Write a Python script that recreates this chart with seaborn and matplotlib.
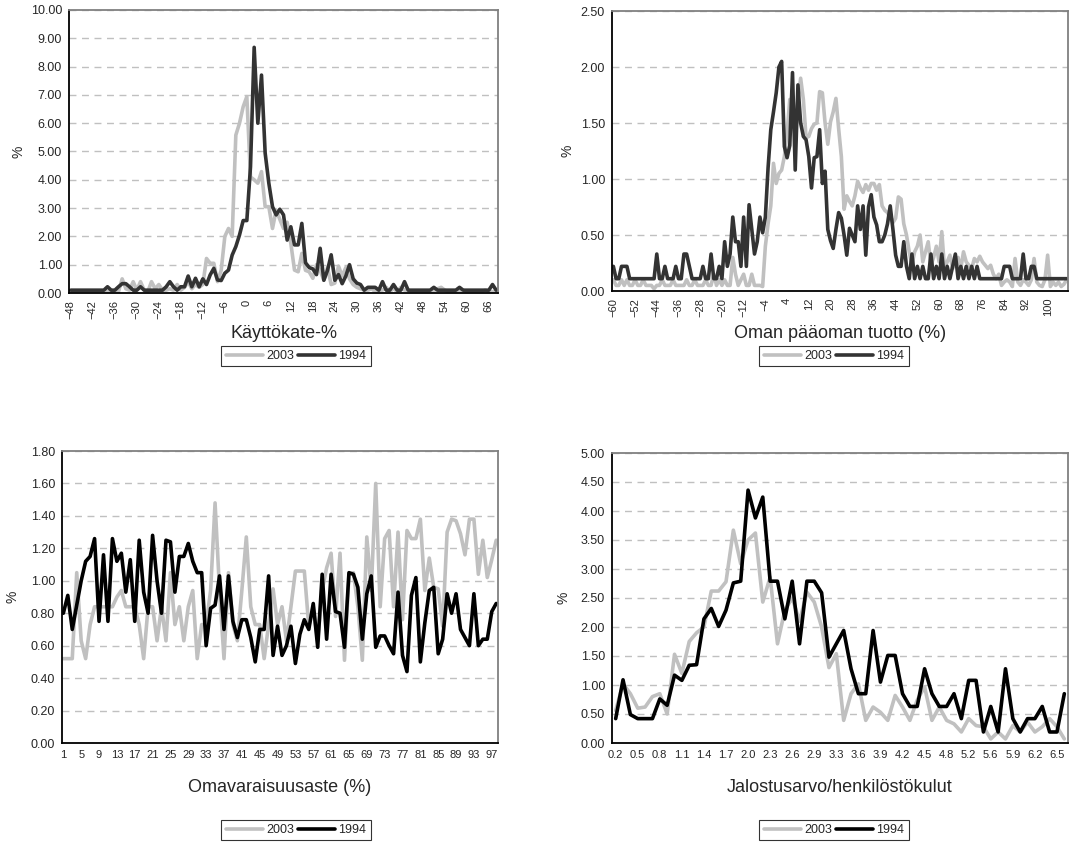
import matplotlib
matplotlib.use("Agg")
import numpy as np
import pandas as pd
import seaborn as sns
from matplotlib import pyplot as plt
from matplotlib.ticker import MultipleLocator, FormatStrFormatter, FixedLocator

# --- Käyttökate-% (categories -48..68) ---
kk_start = -48
kk_2003 = [0.05] * 10 + [
    0.05, 0.05, 0.05, 0.05, 0.5, 0.15, 0.1, 0.4, 0.1, 0.4,
    0.1, 0.05, 0.4, 0.15, 0.3, 0.1, 0.1, 0.15, 0.1, 0.3,
    0.1, 0.2, 0.4, 0.15, 0.3, 0.2, 0.3, 1.22, 1.05, 1.05,
    0.4, 0.8, 2.0, 2.28, 2.0, 5.58, 6.0, 6.58, 6.94, 4.1,
    4.0, 3.88, 4.29, 3.05, 3.05, 2.28, 2.93, 2.6, 2.28, 2.5,
    1.75, 0.81, 0.75, 1.4, 0.8, 0.75, 0.52, 1.0, 0.8, 0.45,
    0.9, 0.3, 0.35, 0.95, 0.6, 0.9, 0.5, 0.3, 0.2, 0.15,
    0.1, 0.1, 0.15, 0.05, 0.1, 0.1, 0.2, 0.05, 0.15, 0.05,
    0.2, 0.1, 0.1, 0.05, 0.05, 0.05, 0.05, 0.05, 0.05, 0.05,
    0.15, 0.2, 0.1, 0.05, 0.05, 0.05, 0.05, 0.1, 0.05, 0.05,
    0.05, 0.05, 0.05, 0.1, 0.05, 0.05, 0.05]
kk_1994 = [0.1] * 10 + [
    0.22, 0.1, 0.1, 0.22, 0.33, 0.33, 0.22, 0.1, 0.1, 0.22,
    0.1, 0.1, 0.1, 0.1, 0.1, 0.1, 0.22, 0.4, 0.22, 0.1,
    0.22, 0.22, 0.6, 0.22, 0.52, 0.22, 0.5, 0.3, 0.64, 0.87,
    0.46, 0.44, 0.7, 0.81, 1.34, 1.64, 2.05, 2.56, 2.56, 4.46,
    8.68, 6.0, 7.7, 4.94, 3.88, 3.05, 2.76, 2.96, 2.76, 1.87,
    2.34, 1.7, 1.7, 2.46, 1.07, 0.9, 0.85, 0.65, 1.58, 0.45,
    0.8, 1.35, 0.45, 0.65, 0.33, 0.6, 1.0, 0.5, 0.35, 0.3,
    0.1, 0.2, 0.2, 0.2, 0.1, 0.4, 0.1, 0.1, 0.3, 0.1,
    0.1, 0.4, 0.1, 0.1, 0.1, 0.1, 0.1, 0.1, 0.1, 0.2,
    0.1, 0.1, 0.1, 0.1, 0.1, 0.1, 0.2, 0.1, 0.1, 0.1,
    0.1, 0.1, 0.1, 0.1, 0.1, 0.3, 0.1]

# --- Oman pääoman tuotto (%) (categories -60..107) ---
opt_start = -60
opt_2003 = [
    0.10, 0.05, 0.05, 0.10, 0.05, 0.10, 0.05, 0.05, 0.10, 0.05,
    0.05, 0.10, 0.05, 0.05, 0.05, 0.02, 0.05, 0.05, 0.10, 0.05,
    0.05, 0.05, 0.10, 0.05, 0.05, 0.05, 0.05, 0.10, 0.05, 0.05,
    0.10, 0.05, 0.05, 0.05, 0.10, 0.05, 0.05, 0.15, 0.05, 0.10,
    0.05, 0.10, 0.05, 0.05, 0.30, 0.15, 0.05, 0.10, 0.15, 0.05,
    0.05, 0.15, 0.05, 0.05, 0.05, 0.04, 0.40, 0.60, 0.76, 1.14,
    0.96, 1.05, 1.08, 1.20, 1.41, 1.71, 1.59, 1.47, 1.70, 1.90,
    1.71, 1.37, 1.38, 1.45, 1.49, 1.50, 1.78, 1.77, 1.50, 1.31,
    1.51, 1.60, 1.72, 1.45, 1.20, 0.73, 0.85, 0.80, 0.76, 0.85,
    0.98, 0.92, 0.88, 0.95, 0.90, 0.96, 0.96, 0.90, 0.95, 0.76,
    0.72, 0.70, 0.65, 0.61, 0.65, 0.84, 0.82, 0.60, 0.50, 0.35,
    0.23, 0.35, 0.40, 0.50, 0.26, 0.35, 0.44, 0.23, 0.30, 0.40,
    0.26, 0.53, 0.20, 0.26, 0.32, 0.20, 0.26, 0.30, 0.20, 0.35,
    0.26, 0.23, 0.20, 0.29, 0.26, 0.31, 0.26, 0.23, 0.20, 0.23,
    0.15, 0.11, 0.15, 0.05, 0.08, 0.10, 0.08, 0.04, 0.29, 0.08,
    0.05, 0.10, 0.08, 0.05, 0.10, 0.29, 0.08, 0.05, 0.04, 0.10,
    0.32, 0.04, 0.08, 0.05, 0.08, 0.04, 0.06, 0.10]
opt_1994 = [
    0.22, 0.11, 0.11, 0.22, 0.22, 0.22, 0.11, 0.11, 0.11, 0.11,
    0.11, 0.11, 0.11, 0.11, 0.11, 0.11, 0.33, 0.11, 0.11, 0.22,
    0.11, 0.11, 0.11, 0.22, 0.11, 0.11, 0.33, 0.33, 0.22, 0.11,
    0.11, 0.11, 0.11, 0.22, 0.11, 0.11, 0.33, 0.11, 0.11, 0.22,
    0.11, 0.44, 0.22, 0.33, 0.66, 0.44, 0.44, 0.22, 0.66, 0.22,
    0.77, 0.55, 0.33, 0.44, 0.66, 0.52, 0.66, 1.10, 1.44, 1.60,
    1.77, 2.00, 2.05, 1.29, 1.19, 1.30, 1.95, 1.08, 1.84, 1.50,
    1.38, 1.35, 1.20, 0.92, 1.19, 1.20, 1.44, 0.96, 1.07, 0.55,
    0.45, 0.38, 0.55, 0.70, 0.65, 0.50, 0.32, 0.56, 0.50, 0.44,
    0.76, 0.55, 0.76, 0.32, 0.75, 0.86, 0.66, 0.59, 0.44, 0.44,
    0.50, 0.60, 0.76, 0.55, 0.32, 0.22, 0.22, 0.44, 0.22, 0.11,
    0.33, 0.11, 0.22, 0.11, 0.22, 0.11, 0.11, 0.33, 0.11, 0.22,
    0.11, 0.33, 0.11, 0.22, 0.11, 0.22, 0.33, 0.11, 0.22, 0.11,
    0.22, 0.11, 0.22, 0.11, 0.22, 0.11, 0.11, 0.11, 0.11, 0.11,
    0.11, 0.11, 0.11, 0.11, 0.22, 0.22, 0.22, 0.11, 0.11, 0.11,
    0.11, 0.33, 0.11, 0.11, 0.22, 0.22, 0.11, 0.11, 0.11, 0.11,
    0.11, 0.11, 0.11, 0.11, 0.11, 0.11, 0.11, 0.11]

# --- Omavaraisuusaste (%) (categories 1..98) ---
ova_start = 1
ova_2003 = [
    0.52, 0.52, 0.52, 1.05, 0.63, 0.52, 0.73, 0.84, 0.84, 0.84,
    0.84, 0.84, 0.90, 0.94, 0.84, 0.84, 0.84, 0.73, 0.52, 0.84,
    0.84, 0.63, 0.84, 0.63, 1.05, 0.73, 0.84, 0.63, 0.84, 0.94,
    0.52, 0.73, 0.73, 0.94, 1.48, 0.94, 0.52, 1.05, 0.73, 0.63,
    0.94, 1.27, 0.84, 0.73, 0.73, 0.52, 0.73, 0.95, 0.73, 0.84,
    0.63, 0.84, 1.06, 1.06, 1.06, 0.72, 0.84, 0.63, 0.94, 1.08,
    1.17, 0.78, 1.17, 0.51, 1.04, 1.05, 0.84, 0.51, 1.27, 0.94,
    1.60, 0.84, 1.26, 1.31, 0.84, 1.30, 0.76, 1.31, 1.26, 1.26,
    1.38, 0.94, 1.14, 0.96, 0.95, 0.72, 1.30, 1.38, 1.37, 1.29,
    1.16, 1.38, 1.38, 1.04, 1.25, 1.02, 1.13, 1.25]
ova_1994 = [
    0.80, 0.91, 0.70, 0.85, 1.00, 1.12, 1.15, 1.26, 0.75, 1.16,
    0.75, 1.26, 1.12, 1.17, 0.93, 1.13, 0.75, 1.25, 0.93, 0.80,
    1.28, 1.00, 0.80, 1.25, 1.24, 0.93, 1.15, 1.15, 1.23, 1.12,
    1.05, 1.05, 0.60, 0.83, 0.85, 1.03, 0.70, 1.03, 0.75, 0.65,
    0.76, 0.76, 0.65, 0.50, 0.70, 0.70, 1.03, 0.54, 0.72, 0.54,
    0.60, 0.72, 0.49, 0.67, 0.76, 0.70, 0.86, 0.59, 1.04, 0.64,
    1.04, 0.81, 0.80, 0.59, 1.05, 1.04, 0.96, 0.64, 0.92, 1.03,
    0.59, 0.66, 0.66, 0.60, 0.55, 0.93, 0.54, 0.44, 0.91, 1.02,
    0.50, 0.74, 0.94, 0.96, 0.55, 0.64, 0.92, 0.80, 0.92, 0.70,
    0.65, 0.60, 0.92, 0.60, 0.64, 0.64, 0.81, 0.86]

# --- Jalostusarvo/henkilöstökulut (62 categories, every 3rd labelled) ---
jh_labels = ["0.2", "0.5", "0.8", "1.1", "1.4", "1.7", "2.0", "2.3", "2.6", "2.9",
             "3.3", "3.6", "3.9", "4.2", "4.5", "4.8", "5.2", "5.6", "5.9", "6.2", "6.5"]
jh_2003 = [
    0.56, 1.02, 0.85, 0.60, 0.62, 0.80, 0.85, 0.50, 1.53, 1.20,
    1.75, 1.90, 2.00, 2.62, 2.62, 2.78, 3.67, 3.09, 3.50, 3.62,
    2.43, 2.86, 1.71, 2.29, 2.50, 2.10, 2.60, 2.43, 2.00, 1.30,
    1.54, 0.39, 0.85, 1.02, 0.39, 0.62, 0.53, 0.39, 0.82, 0.62,
    0.39, 0.74, 0.97, 0.39, 0.62, 0.39, 0.33, 0.19, 0.42, 0.30,
    0.28, 0.07, 0.19, 0.07, 0.30, 0.19, 0.36, 0.19, 0.28, 0.42,
    0.28, 0.07]
jh_1994 = [
    0.42, 1.09, 0.49, 0.42, 0.42, 0.42, 0.76, 0.65, 1.17, 1.08,
    1.34, 1.35, 2.14, 2.32, 2.01, 2.29, 2.76, 2.79, 4.36, 3.88,
    4.24, 2.79, 2.79, 2.14, 2.79, 1.71, 2.79, 2.79, 2.59, 1.48,
    1.71, 1.94, 1.28, 0.85, 0.85, 1.94, 1.05, 1.51, 1.51, 0.85,
    0.63, 0.63, 1.28, 0.85, 0.63, 0.63, 0.85, 0.42, 1.08, 1.08,
    0.19, 0.63, 0.19, 1.28, 0.42, 0.19, 0.42, 0.42, 0.63, 0.19,
    0.19, 0.85]

sns.set_style("white")
plt.rcParams["font.family"] = ["Liberation Sans", "DejaVu Sans"]
plt.rcParams["lines.solid_joinstyle"] = "round"

LIGHT = "#c0c0c0"
W, H = 1072, 848


def px_rect(l, t, r, b):
    return [l / W, 1 - b / H, (r - l) / W, (b - t) / H]


def draw(fig, box, x, y03, y94, dark, xlabel, ylab_x, xlab_y, leg_xy):
    l, t, r, b = box
    ax = fig.add_axes(px_rect(l, t, r, b))
    df = pd.DataFrame({
        "x": list(x) * 2,
        "y": y03 + y94,
        "year": ["2003"] * len(y03) + ["1994"] * len(y94),
    })
    sns.lineplot(data=df, x="x", y="y", hue="year", hue_order=["2003", "1994"],
                 palette={"2003": LIGHT, "1994": dark}, linewidth=2.6,
                 estimator=None, legend=False, ax=ax)
    ax.grid(axis="y", color="#c0c0c0", linestyle=(0, (5, 4)), linewidth=1.0)
    ax.set_axisbelow(True)
    for s in ["left", "bottom"]:
        ax.spines[s].set_color("black")
        ax.spines[s].set_linewidth(1.3)
    for s in ["top", "right"]:
        ax.spines[s].set_color("#808080")
        ax.spines[s].set_linewidth(1.3)
    ax.yaxis.set_major_formatter(FormatStrFormatter("%.2f"))
    ax.tick_params(axis="y", direction="out", length=3, width=0.8, labelsize=9, pad=2)
    ax.tick_params(axis="x", which="both", direction="out", length=3, width=0.8,
                   labelsize=8, pad=2)
    ax.set_xlabel(xlabel, fontsize=13)
    ax.xaxis.set_label_coords(0.5, (b - xlab_y) / (b - t))
    ax.xaxis.label.set_va("center")
    ax.set_ylabel("%", fontsize=10)
    ax.yaxis.set_label_coords((ylab_x - l) / (r - l), 0.5)
    ax.yaxis.label.set_va("center")
    lines = ax.get_lines()[:2]
    leg = fig.legend(lines, ["2003", "1994"], loc="center",
                     bbox_to_anchor=(leg_xy[0] / W, 1 - leg_xy[1] / H),
                     ncol=2, frameon=True, fancybox=False, edgecolor="black",
                     fontsize=9, handlelength=3.0, handletextpad=0.25,
                     columnspacing=0.3, borderpad=0.35)
    leg.get_frame().set_linewidth(0.8)
    return ax


fig = plt.figure(figsize=(10.72, 8.48), dpi=100)

# top-left
x1 = list(range(kk_start, kk_start + len(kk_1994)))
ax1 = draw(fig, (69, 10, 498, 293), x1, kk_2003, kk_1994, "#333333",
           "Käyttökate-%", 19, 333, (296, 356))
ax1.set_xlim(kk_start - 0.5, x1[-1] + 0.5)
ax1.set_ylim(0, 10)
ax1.yaxis.set_major_locator(MultipleLocator(1))
ax1.xaxis.set_major_locator(FixedLocator(list(range(-48, 67, 6))))
ax1.xaxis.set_minor_locator(MultipleLocator(1))
ax1.tick_params(axis="x", labelrotation=90)

# top-right
x2 = list(range(opt_start, opt_start + len(opt_1994)))
ax2 = draw(fig, (612, 11, 1068, 291), x2, opt_2003, opt_1994, "#333333",
           "Oman pääoman tuotto (%)", 567, 333, (834, 356))
ax2.set_xlim(opt_start - 0.5, x2[-1] + 0.5)
ax2.set_ylim(0, 2.5)
ax2.yaxis.set_major_locator(MultipleLocator(0.5))
ax2.xaxis.set_major_locator(FixedLocator(list(range(-60, 101, 8))))
ax2.xaxis.set_minor_locator(MultipleLocator(2))
ax2.tick_params(axis="x", labelrotation=90)

# bottom-left
x3 = list(range(ova_start, ova_start + len(ova_1994)))
ax3 = draw(fig, (62, 451, 498, 743), x3, ova_2003, ova_1994, "black",
           "Omavaraisuusaste (%)", 13, 787, (296, 830))
ax3.set_xlim(0.7, 98.4)
ax3.set_ylim(0, 1.8)
ax3.yaxis.set_major_locator(MultipleLocator(0.2))
ax3.xaxis.set_major_locator(FixedLocator(list(range(1, 98, 4))))
ax3.xaxis.set_minor_locator(MultipleLocator(1))

# bottom-right
x4 = list(range(len(jh_1994)))
ax4 = draw(fig, (612, 453, 1068, 743), x4, jh_2003, jh_1994, "black",
           "Jalostusarvo/henkilöstökulut", 563, 787, (834, 830))
ax4.set_xlim(-0.5, len(jh_1994) - 0.5)
ax4.set_ylim(0, 5)
ax4.yaxis.set_major_locator(MultipleLocator(0.5))
ax4.set_xticks(list(range(0, 3 * len(jh_labels), 3)))
ax4.set_xticklabels(jh_labels)
ax4.xaxis.set_minor_locator(MultipleLocator(1))

fig.savefig("out.png", dpi=100)
